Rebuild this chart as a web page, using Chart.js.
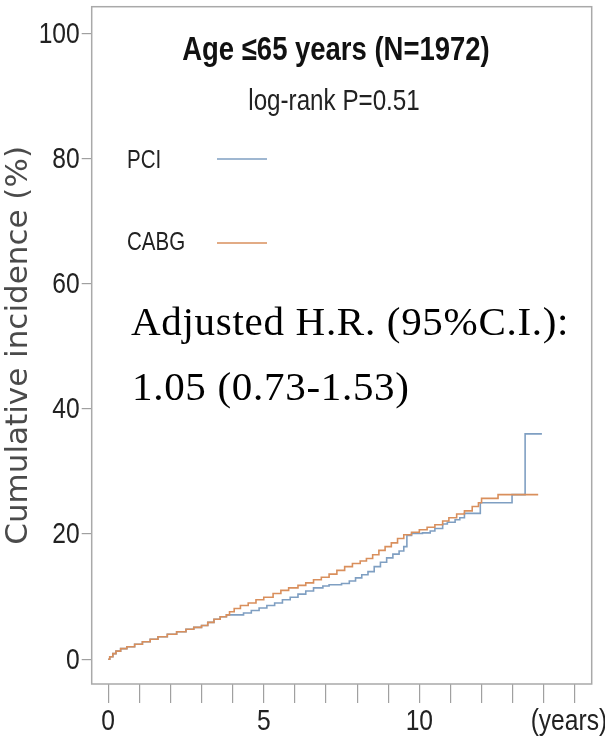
<!DOCTYPE html>
<html>
<head>
<meta charset="utf-8">
<script src="https://cdn.jsdelivr.net/npm/chart.js@4/dist/chart.umd.min.js"></script>
<style>
html,body{margin:0;padding:0;background:#fff;}
canvas{display:block;}
</style>
</head>
<body>
<canvas id="c" width="605" height="742"></canvas>
<script>
// ---- data ----
const pciYears = [0,0.05,0.15,0.25,0.4,0.6,0.85,1.1,1.35,1.6,1.9,2.2,2.5,2.75,3.0,3.2,3.4,3.6,3.8,
  4.35,4.6,4.85,5.1,5.35,5.6,5.85,6.1,6.35,6.6,6.9,7.1,7.5,7.75,7.95,8.15,8.35,8.55,8.75,8.95,9.15,9.35,9.5,
  9.6,9.75,10.1,10.35,10.5,10.75,10.9,11.15,11.3,11.45,11.96,12.98,13.4,13.94];
const pciIncidence = [0,0.4,0.9,1.3,1.7,2.0,2.4,2.8,3.2,3.6,4.0,4.4,4.8,5.1,5.4,5.9,6.4,6.8,7.1,
  7.4,7.8,8.2,8.6,9.0,9.5,9.9,10.4,10.9,11.4,11.7,11.9,12.1,12.5,13.0,13.5,14.0,14.8,15.5,16.2,16.8,17.3,18.0,
  19.8,20.1,20.2,20.5,20.9,21.6,21.9,22.3,22.6,23.3,25.0,26.3,36.0,36.0];

const cabgYears = [0,0.05,0.15,0.25,0.4,0.6,0.85,1.1,1.35,1.6,1.9,2.2,2.5,2.75,3.0,3.2,3.4,3.6,3.8,
  3.9,4.05,4.25,4.5,4.75,5.0,5.3,5.55,5.8,6.1,6.35,6.6,6.85,7.1,7.35,7.6,7.85,8.1,8.3,8.5,8.7,8.9,9.1,9.3,9.5,
  9.75,10.0,10.25,10.5,10.75,10.95,11.2,11.45,11.7,11.9,12.0,12.53,13.82];
const cabgIncidence = [0,0.4,0.9,1.3,1.7,2.0,2.4,2.8,3.2,3.6,4.0,4.4,4.8,5.1,5.4,5.9,6.4,6.8,7.1,
  7.6,8.1,8.6,9.0,9.5,9.9,10.5,11.0,11.4,11.8,12.2,12.7,13.1,13.6,14.2,14.8,15.3,15.7,16.1,16.7,17.4,18.0,18.6,19.3,19.9,
  20.3,20.7,21.1,21.5,22.1,22.6,23.2,23.7,24.4,25.0,25.7,26.3,26.3];

const seriesNames = ['PCI','CABG'];
const xTickValues = [0,5,10,15];
const xTickLabels = ['0','5','10','(years)'];
const yTickValues = [0,20,40,60,80,100];
const yTickLabels = ['0','20','40','60','80','100'];
const titleText = 'Age \u226465 years (N=1972)';
const subtitleText = 'log-rank P=0.51';
const noteLines = ['Adjusted H.R. (95%C.I.):','1.05 (0.73-1.53)'];

const colPCI = '#7f9fc2';
const colCABG = '#d98f5c';
const SANS = "'Liberation Sans',Arial,sans-serif";
const SQ = 0.82; // horizontal squeeze to mimic a narrow face

function toPts(xs, ys){ return xs.map((x,i)=>({x:x, y:ys[i]})); }

function narrowText(ctx, text, x, y, font, align, baseline, color){
  ctx.save();
  ctx.font = font;
  ctx.fillStyle = color;
  ctx.textBaseline = baseline;
  ctx.textAlign = 'left';
  const w = ctx.measureText(text).width * SQ;
  let x0 = x;
  if (align === 'center') x0 = x - w/2;
  else if (align === 'right') x0 = x - w;
  ctx.translate(x0, y);
  ctx.scale(SQ, 1);
  ctx.fillText(text, 0, 0);
  ctx.restore();
}

const overlay = {
  id:'overlay',
  afterDatasetsDraw(chart){
    const ctx = chart.ctx, a = chart.chartArea;
    const xs = chart.scales.x, ys = chart.scales.y;
    ctx.save();
    // frame
    ctx.strokeStyle = '#a9a9a9';
    ctx.lineWidth = 1.5;
    ctx.strokeRect(a.left, a.top, a.right - a.left, a.bottom - a.top);
    // tick labels
    const tickFont = "30px " + SANS;
    yTickValues.forEach((v,i)=>{
      narrowText(ctx, yTickLabels[i], a.left - 12, ys.getPixelForValue(v) + 1, tickFont, 'right', 'middle', '#222');
    });
    xTickValues.forEach((v,i)=>{
      const off = (i === xTickValues.length - 1) ? -6 : 0;
      narrowText(ctx, xTickLabels[i], xs.getPixelForValue(v) + off, 722, tickFont, 'center', 'middle', '#222');
    });
    // title
    narrowText(ctx, titleText, 336, 51, "bold 33.5px " + SANS, 'center', 'middle', '#111');
    narrowText(ctx, subtitleText, 334, 102, "29.5px " + SANS, 'center', 'middle', '#222');
    // legend
    const leg = [[seriesNames[0], colPCI, 161, 159],[seriesNames[1], colCABG, 243, 243]];
    leg.forEach(([t,c,ty,ly])=>{
      narrowText(ctx, t, 127, ty, "25px " + SANS, 'left', 'middle', '#222');
      ctx.strokeStyle = c;
      ctx.lineWidth = 1.5;
      ctx.beginPath(); ctx.moveTo(217, ly); ctx.lineTo(267, ly); ctx.stroke();
    });
    // note
    ctx.fillStyle = '#000';
    ctx.textAlign = 'left';
    ctx.textBaseline = 'alphabetic';
    ctx.font = "41px 'Liberation Serif','Times New Roman',serif";
    try { ctx.letterSpacing = '0.7px'; } catch(e) {}
    ctx.fillText(noteLines[0], 131, 335);
    ctx.fillText(noteLines[1], 132, 400);
    ctx.restore();
  }
};

function noPad(s){ s.paddingLeft = 0; s.paddingRight = 0; s.paddingTop = 0; s.paddingBottom = 0; }

new Chart(document.getElementById('c'), {
  type:'line',
  data:{
    datasets:[
      {label:seriesNames[1], data:toPts(cabgYears,cabgIncidence), borderColor:colCABG, borderWidth:1.6, stepped:true, pointRadius:0, fill:false},
      {label:seriesNames[0], data:toPts(pciYears,pciIncidence), borderColor:colPCI, borderWidth:1.6, stepped:true, pointRadius:0, fill:false}
    ]
  },
  options:{
    responsive:false,
    animation:false,
    layout:{padding:{left:0, top:6.7, right:13.3, bottom:0}},
    plugins:{legend:{display:false}, tooltip:{enabled:false}},
    scales:{
      x:{
        type:'linear', min:-0.53, max:15.54,
        afterFit(s){ s.height = 58; noPad(s); },
        border:{display:false},
        grid:{drawOnChartArea:false, tickLength:19, color:'#a0a0a0', lineWidth:1.2},
        ticks:{stepSize:1, includeBounds:false, autoSkip:false, maxRotation:0, padding:4,
          color:'rgba(0,0,0,0)', font:{size:10}, callback:()=>''}
      },
      y:{
        type:'linear', min:-3.95, max:104.25,
        afterFit(s){ s.width = 91.7; noPad(s); },
        afterBuildTicks(s){ s.ticks = yTickValues.map(v=>({value:v})); },
        border:{display:false},
        grid:{drawOnChartArea:false, tickLength:10, color:'#a0a0a0', lineWidth:1.2},
        ticks:{includeBounds:false, padding:2, color:'rgba(0,0,0,0)', font:{size:10}, callback:()=>''},
        title:{display:true, text:'Cumulative incidence (%)', color:'#4a4a4a',
          font:{family:"'DejaVu Sans',sans-serif", size:31}, padding:{top:0,bottom:0}}
      }
    }
  },
  plugins:[overlay]
});
</script>
</body>
</html>
